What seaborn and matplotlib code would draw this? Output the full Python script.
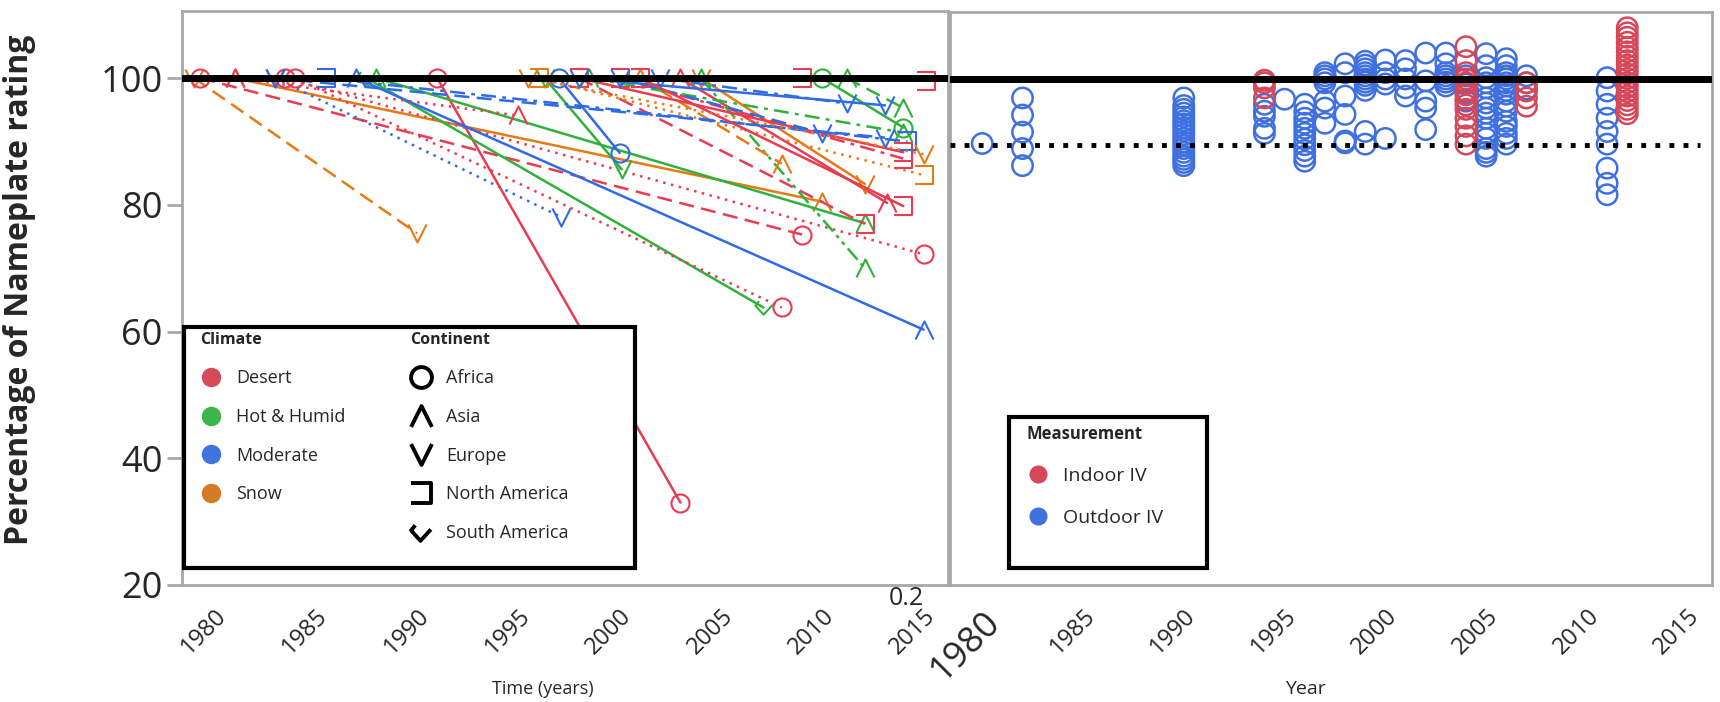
import numpy as np
import pandas as pd
import matplotlib as mpl
mpl.use("Agg")
import matplotlib.pyplot as plt
import seaborn as sns
from matplotlib.path import Path
from matplotlib.lines import Line2D
from matplotlib.patches import Rectangle

# ---- left panel: degradation lines (start at 100 %, end at measured value)
line_start = [1979.0, 1981.0, 1979.3, 1983.5, 1983.0, 1991.0, 1987.5, 1984.0, 1987.0, 1988.0,
              1996.3, 1997.0, 1998.0, 2003.0, 2004.0, 2004.0, 2001.0, 1996.0, 1998.0, 2000.0,
              2010.0, 2011.2, 1998.5, 1998.0, 2002.0, 2000.0, 1983.0, 1985.5, 2009.0, 1981.0,
              2001.0, 1995.5]
line_end = [1990.0, 2010.0, 2009.0, 2015.0, 1997.1, 2003.0, 2007.1, 2008.0, 2015.0, 2012.1,
            2000.1, 2000.0, 2012.1, 2013.2, 2012.1, 2012.1, 2008.0, 2015.0, 2014.0, 2014.0,
            2014.0, 2014.0, 2014.0, 2013.1, 2011.2, 2010.0, 2013.1, 2014.2, 2015.1, 1995.0,
            2014.0, 2015.0]
line_value = [75.5, 80.5, 75.3, 72.2, 78.1, 33.0, 63.8, 63.8, 60.3, 77.1,
              85.6, 88.2, 77.0, 80.3, 83.3, 70.0, 86.5, 84.7, 88.3, 87.3,
              92.2, 95.3, 91.4, 95.7, 96.0, 91.3, 90.6, 90.0, 99.6, 94.1,
              79.8, 88.0]
line_climate = ["Snow", "Snow", "Desert", "Desert", "Moderate", "Desert", "Hot & Humid", "Desert",
                "Moderate", "Hot & Humid", "Hot & Humid", "Moderate", "Desert", "Desert", "Snow",
                "Hot & Humid", "Snow", "Snow", "Desert", "Desert", "Hot & Humid", "Hot & Humid",
                "Hot & Humid", "Moderate", "Moderate", "Moderate", "Moderate", "Moderate", "Desert",
                "Desert", "Desert", "Snow"]
line_continent = ["Europe", "Asia", "Africa", "Africa", "Europe", "Africa", "South America", "Africa",
                  "Asia", "Asia", "Europe", "Africa", "North America", "Asia", "Europe", "Asia",
                  "Asia", "North America", "North America", "North America", "Africa", "Asia",
                  "Asia", "Europe", "Europe", "Europe", "Europe", "North America", "North America",
                  "Asia", "North America", "Europe"]
line_style = ["dashed", "solid", "dashed", "dotted", "dotted", "solid", "solid", "dotted",
              "solid", "solid", "solid", "solid", "dashed", "solid", "solid", "dashdotdot",
              "dashed", "dotted", "solid", "dashdot", "solid", "dashed", "dashdot", "solid",
              "dashdot", "dashed", "dashed", "dashdot", "dashed", "dotted", "solid", "dotted"]

climates = ["Desert", "Hot & Humid", "Moderate", "Snow"]
continents = ["Africa", "Asia", "Europe", "North America", "South America"]

# ---- right panel: IV measurements per year
outdoor_years = [1980, 1982, 1990, 1994, 1995, 1996, 1997, 1998, 1999, 2000, 2001, 2002,
                 2003, 2004, 2005, 2006, 2007, 2011]
outdoor_values = [
    [89.8],
    [97.0, 94.3, 91.6, 89.0, 86.3],
    [97.0, 95.8, 95.2, 94.6, 94.0, 93.4, 92.9, 92.3, 91.8, 91.2, 90.6, 90.0, 89.5, 89.0,
     88.4, 87.8, 87.3, 86.8, 86.3],
    [96.0, 94.9, 94.1, 92.2, 91.4],
    [96.8],
    [96.0, 94.8, 93.8, 93.0, 92.2, 91.4, 90.5, 89.6, 88.7, 87.8, 87.0],
    [101.0, 100.5, 100.0, 99.4, 96.5, 95.4, 93.0],
    [102.4, 101.0, 97.3, 94.4, 89.9, 90.2],
    [102.8, 102.2, 101.6, 101.0, 100.5, 100.0, 99.5, 99.0, 98.2, 91.7, 89.7],
    [103.0, 101.0, 100.0, 99.2, 90.6],
    [102.9, 101.6, 100.0, 98.6, 97.3],
    [104.1, 99.7, 96.5, 95.4, 92.0],
    [104.1, 102.4, 101.0, 100.0, 98.9, 99.5, 100.5],
    [100.5, 99.2, 97.8, 96.5],
    [104.0, 102.1, 100.2, 98.6, 97.0, 95.4, 93.8, 92.2, 90.6, 89.0, 87.8, 99.4, 96.2, 94.6,
     91.4, 88.4],
    [103.2, 102.1, 101.0, 100.0, 98.9, 97.6, 96.5, 94.9, 93.3, 91.4, 89.7, 100.5, 99.4, 98.2,
     95.7, 92.5, 90.6],
    [100.5, 99.4, 98.4],
    [100.2, 98.1, 96.0, 93.8, 91.7, 89.7, 85.9, 83.5, 81.7],
]
indoor_years = [1994, 2004, 2007, 2012]
indoor_values = [
    [99.8, 99.4, 98.6, 97.0],
    [105.1, 102.9, 101.0, 99.4, 98.1, 96.8, 95.2, 93.8, 92.5, 91.0, 89.7, 100.0, 97.5, 95.9],
    [99.4, 98.1, 97.0, 95.7],
    [108.1, 107.3, 106.6, 105.8, 105.0, 104.3, 103.6, 102.9, 102.2, 101.5, 100.8, 100.1,
     99.4, 98.7, 98.0, 97.3, 96.6, 95.9, 95.2, 94.5],
]

# ---- style
sns.set_style("white")
plt.rcParams["font.family"] = ["Open Sans", "DejaVu Sans"]

line_colors = {"Desert": "#ea3b50", "Hot & Humid": "#30b23a", "Moderate": "#2f6be6", "Snow": "#e67a14"}
dot_colors = {"Desert": "#d64a5a", "Hot & Humid": "#3cb54a", "Moderate": "#4173e0", "Snow": "#d57a28"}
meas_colors = {"Outdoor IV": "#3f70e0", "Indoor IV": "#d6475a"}
grey = "#a8a8a8"

mk = {
    "Africa": "o",
    "Asia": Path([(-1, -1), (0, 1), (1, -1)], [Path.MOVETO, Path.LINETO, Path.LINETO]),
    "Europe": Path([(-1, 1), (0, -1), (1, 1)], [Path.MOVETO, Path.LINETO, Path.LINETO]),
    "North America": Path([(-1, 1), (1, 1), (1, -1), (-1, -1)],
                          [Path.MOVETO, Path.LINETO, Path.LINETO, Path.LINETO]),
    "South America": Path([(-0.6, 0.7), (-1, 0.2), (-0.1, -0.8), (0.9, 0.3)],
                          [Path.MOVETO, Path.LINETO, Path.LINETO, Path.LINETO]),
}
ls_map = {"solid": "-", "dashed": (0, (6, 3)), "dotted": (0, (1, 2.2)),
          "dashdot": (0, (6, 2.5, 1.5, 2.5)), "dashdotdot": (0, (6, 2, 1.5, 2, 1.5, 2))}

fig = plt.figure(figsize=(17.2, 7.02), dpi=100)
ax1 = fig.add_axes([0.1058, 0.1667, 0.4453, 0.8177])
ax2 = fig.add_axes([0.5523, 0.1667, 0.4430, 0.8163], sharey=ax1)

# ---- left panel
for s, e, v, cl, ct, st in zip(line_start, line_end, line_value, line_climate, line_continent, line_style):
    c = line_colors[cl]
    sns.lineplot(x=[s, e], y=[100, v], ax=ax1, color=c, linestyle=ls_map[st], linewidth=1.8,
                 marker=mk[ct], markersize=13, mfc="none", mec=c, mew=1.5, legend=False, zorder=2)
ax1.axhline(100, color="black", lw=5, zorder=5)

# ---- right panel
rows = []
for yr, vals in zip(outdoor_years, outdoor_values):
    rows += [(yr, v, "Outdoor IV") for v in vals]
for yr, vals in zip(indoor_years, indoor_values):
    rows += [(yr, v, "Indoor IV") for v in vals]
df2 = pd.DataFrame(rows, columns=["year", "pct", "measurement"])
sns.scatterplot(data=df2, x="year", y="pct", hue="measurement", palette=meas_colors,
                s=215, linewidth=1.8, legend=False, ax=ax2, zorder=2)
pts = ax2.collections[0]
pts.set_edgecolors(pts.get_facecolors())
pts.set_facecolors("none")
ax2.axhline(100, color="black", lw=5, zorder=5)
ax2.axhline(89.5, xmin=0.0, xmax=0.984, color="black", lw=3.5, ls=(0, (1, 1.9)), zorder=5)

# ---- axes
ticks = list(range(1980, 2016, 5))
for ax in (ax1, ax2):
    ax.set_xlim(1978.4, 2016.2)
    ax.set_xticks(ticks)
    ax.set_xticks(np.arange(1982.5, 2016, 5), minor=True)
    ax.set_xticklabels([str(t) for t in ticks], fontsize=17, rotation=45, ha="right",
                       rotation_mode="anchor")
    ax.tick_params(axis="x", which="major", length=11, width=2, color=grey, pad=3)
    ax.tick_params(axis="x", which="minor", length=6, width=2, color=grey)
    for sp in ax.spines.values():
        sp.set_color(grey)
        sp.set_linewidth(2)
    ax.set_xlabel("")
    ax.set_ylabel("")

ax1.set_ylim(20, 110.6)
ax1.set_yticks([20, 40, 60, 80, 100])
ax1.set_yticklabels(["20", "40", "60", "80", "100"], fontsize=26)
ax1.tick_params(axis="y", length=11, width=2, color=grey, pad=3, left=True)
ax2.tick_params(axis="y", left=False, labelleft=False)
ax2.get_xticklabels()[0].set_fontsize(26)

ax1.set_ylabel("Percentage of Nameplate rating", fontsize=23, fontweight="bold")
ax1.yaxis.set_label_coords(-0.19, 0.515)
ax1.set_xlabel("Time (years)", fontsize=13)
ax1.xaxis.set_label_coords(0.471, -0.166)
ax2.set_xlabel("Year", fontsize=14)
ax2.xaxis.set_label_coords(0.466, -0.166)
ax1.text(0.946, -0.024, "0.2", transform=ax1.transAxes, fontsize=18, ha="center", va="center")

# ---- legends
ax1.add_patch(Rectangle((0.002, 0.030), 0.589, 0.419, transform=ax1.transAxes, fc="white",
                        ec="black", lw=3, zorder=6, clip_on=False))
h_clim = [Line2D([], [], ls="", marker="o", markersize=13, color=dot_colors[c]) for c in climates]
h_cont = [Line2D([], [], ls="", marker=mk[c], markersize=15, mfc="none", mec="black", mew=2.8)
          for c in continents]
leg_kw = dict(loc="upper left", frameon=False, fontsize=13, alignment="left", labelspacing=1.15,
              handlelength=1.2, handletextpad=0.8, borderaxespad=0, borderpad=0,
              title_fontproperties={"weight": "bold", "size": 11.5})
leg1 = ax1.legend(h_clim, climates, title="Climate", bbox_to_anchor=(0.024, 0.44), **leg_kw)
leg1.set_zorder(7)
ax1.add_artist(leg1)
leg2 = ax1.legend(h_cont, continents, title="Continent", bbox_to_anchor=(0.298, 0.44), **leg_kw)
leg2.set_zorder(7)

ax2.add_patch(Rectangle((0.077, 0.030), 0.26, 0.263, transform=ax2.transAxes, fc="white",
                        ec="black", lw=3, zorder=6, clip_on=False))
h_meas = [Line2D([], [], ls="", marker="o", markersize=12, color=meas_colors[m])
          for m in ["Indoor IV", "Outdoor IV"]]
leg3 = ax2.legend(h_meas, ["Indoor IV", "Outdoor IV"], title="Measurement", loc="upper left",
                  bbox_to_anchor=(0.1, 0.28), frameon=False, fontsize=14, alignment="left",
                  labelspacing=1.25, handlelength=1.2, handletextpad=0.7, borderaxespad=0,
                  borderpad=0, title_fontproperties={"weight": "bold", "size": 12})
leg3.set_zorder(7)

fig.savefig("out.png", dpi=100)
